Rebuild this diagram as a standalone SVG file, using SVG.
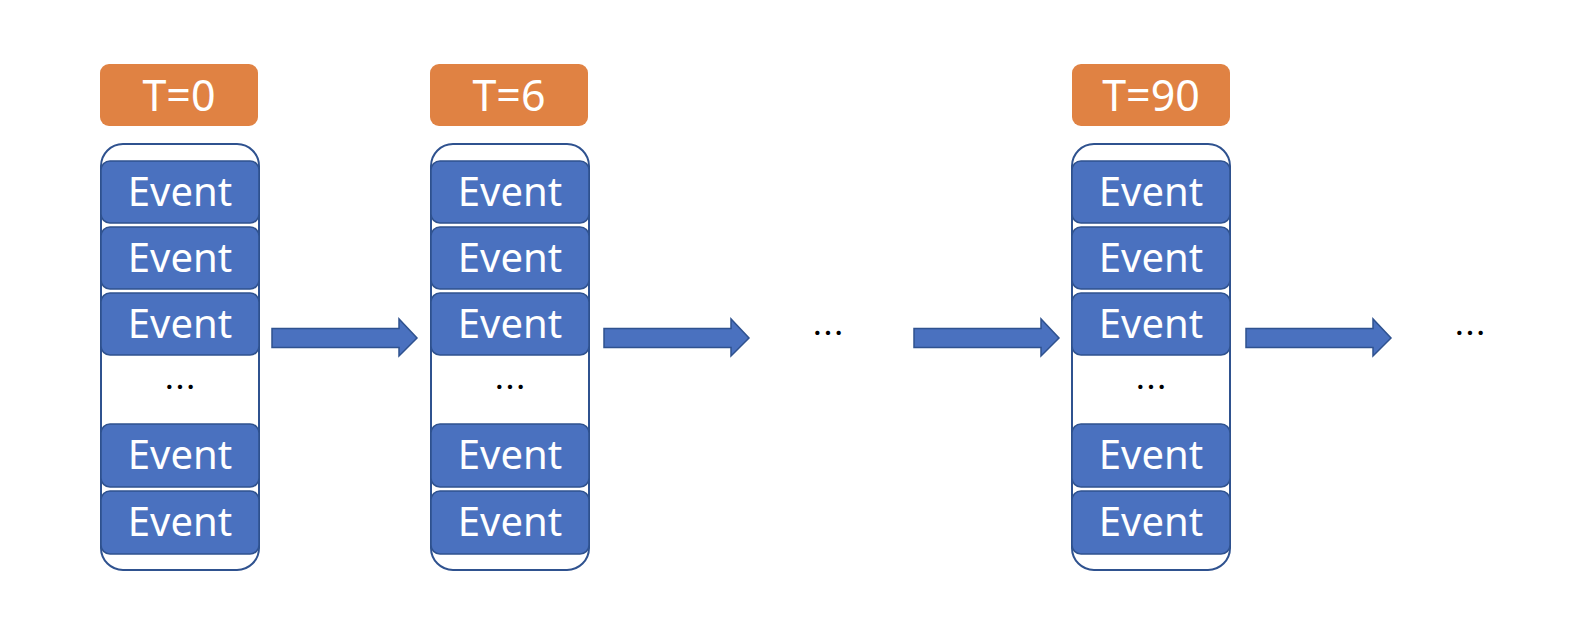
<svg xmlns="http://www.w3.org/2000/svg" width="1580" height="632" viewBox="0 0 1580 632">
<style>
.lbl{fill:#E08243}
.lt{fill:#fff;font-family:"Noto Sans","Noto Sans CJK SC",sans-serif;font-size:43px;text-anchor:middle}
.box{fill:#fff;stroke:#2F528F;stroke-width:2}
.ev{fill:#4A71BF;stroke:#2F528F;stroke-width:1.5}
.et{fill:#fff;font-family:"Noto Sans","Noto Sans CJK SC",sans-serif;font-size:40px;text-anchor:middle}
.dots{fill:#000;font-family:"Noto Sans CJK SC",sans-serif;font-size:32px;text-anchor:middle}
.arr{fill:#4A71BF;stroke:#2F528F;stroke-width:1.5;stroke-linejoin:miter}
</style>
<defs>
<g id="col">
<rect class="box" x="0" y="80" width="158" height="426" rx="22"/>
<rect class="ev" x="0" y="97" width="158" height="62" rx="9"/>
<text class="et" x="79" y="142">Event</text>
<rect class="ev" x="0" y="163" width="158" height="62" rx="9"/>
<text class="et" x="79" y="208">Event</text>
<rect class="ev" x="0" y="229" width="158" height="62" rx="9"/>
<text class="et" x="79" y="274">Event</text>
<text class="dots" x="79" y="335">…</text>
<rect class="ev" x="0" y="360" width="158" height="63" rx="9"/>
<text class="et" x="79" y="405">Event</text>
<rect class="ev" x="0" y="427" width="158" height="63" rx="9"/>
<text class="et" x="79" y="472">Event</text>
</g>
</defs>
<g id="col1">
<rect class="lbl" x="100" y="64" width="158" height="62" rx="9"/>
<text class="lt" x="179" y="111">T=0</text>
<use href="#col" x="101" y="64"/>
</g>
<g id="col2">
<rect class="lbl" x="430" y="64" width="158" height="62" rx="9"/>
<text class="lt" x="509" y="111">T=6</text>
<use href="#col" x="431" y="64"/>
</g>
<g id="col3">
<rect class="lbl" x="1072" y="64" width="158" height="62" rx="9"/>
<text class="lt" x="1151" y="111">T=90</text>
<use href="#col" x="1072" y="64"/>
</g>
<g id="gap1"><text class="dots" x="828" y="345">…</text></g>
<g id="gap2"><text class="dots" x="1470" y="345">…</text></g>
<g id="connectors">
<path class="arr" d="M272,328.5 H399 V319 L417,338 L399,356 V347.5 H272 Z"/>
<path class="arr" d="M604,328.5 H731 V319 L749,338 L731,356 V347.5 H604 Z"/>
<path class="arr" d="M914,328.5 H1041 V319 L1059,338 L1041,356 V347.5 H914 Z"/>
<path class="arr" d="M1246,328.5 H1373 V319 L1391,338 L1373,356 V347.5 H1246 Z"/>
</g>
</svg>
